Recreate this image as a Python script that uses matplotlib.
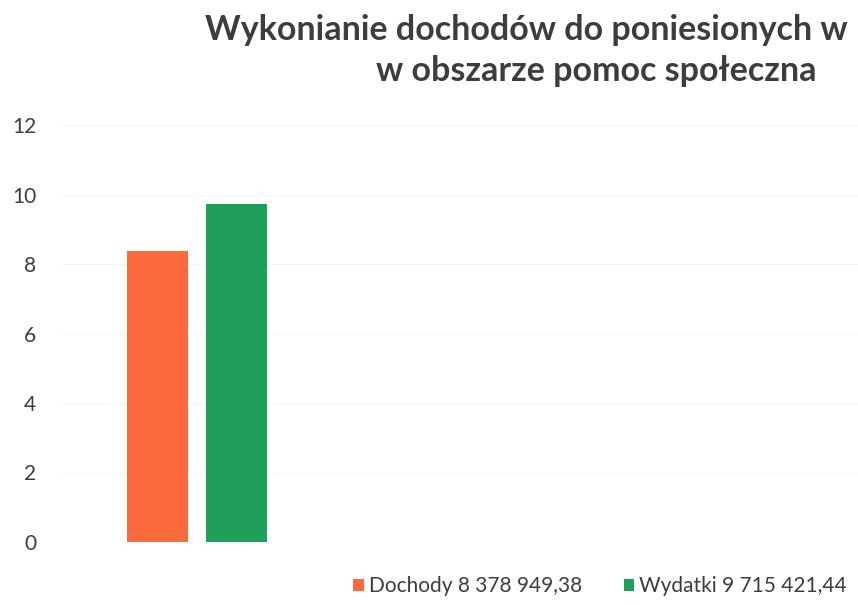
import numpy as np
import matplotlib.pyplot as plt
from matplotlib.patches import Patch

# Data (values in mln zł)
series = ['Dochody 8 378 949,38', 'Wydatki 9 715 421,44']
values = [8.378949, 9.715421]
colors = ['#fb6a3d', '#1fa05a']
yticks = [0, 2, 4, 6, 8, 10, 12]

# title as visible in the (cropped) original
title_1 = 'Wykonianie dochodów do poniesionych w'
title_2 = 'w obszarze pomoc społeczna'

plt.rcParams['font.family'] = ['Lato', 'DejaVu Sans']

W, H = 858, 605
fig = plt.figure(figsize=(W / 100, H / 100), dpi=100)

# axes: left edge ~60px, right past the image edge, y 0 -> 542px, 12 -> 125px
ax = fig.add_axes([60 / W, (H - 542) / H, (W - 60) / W, (542 - 125) / H])

x = np.arange(len(values))
ax.bar(x, values, width=0.77, color=colors, zorder=3)

ax.set_ylim(0, 12)
ax.set_xlim(-1.23, 8.87)
ax.set_yticks(yticks)
ax.set_xticks([])
ax.tick_params(axis='y', length=0, labelsize=15, labelcolor='#3d3d3d', pad=17)
ax.grid(axis='y', color='#f5f5f5', lw=0.8, zorder=0)
for s in ax.spines.values():
    s.set_visible(False)

fig.text(205 / W, 1 - 30 / H, title_1, ha='left', va='center',
         fontsize=24.5, fontweight='bold', color='#3d3d3d')
fig.text(596 / W, 1 - 71 / H, title_2, ha='center', va='center',
         fontsize=24.5, fontweight='bold', color='#3d3d3d')

handles = [Patch(facecolor=c, label=s) for c, s in zip(colors, series)]
fig.legend(handles=handles, loc='center', bbox_to_anchor=(600 / W, 1 - 586 / H), ncol=2,
           frameon=False, fontsize=15, handlelength=0.5, handleheight=0.5,
           handletextpad=0.25, columnspacing=2.0, labelcolor='#3d3d3d',
           borderpad=0, borderaxespad=0)

fig.savefig('out.png', dpi=100)
